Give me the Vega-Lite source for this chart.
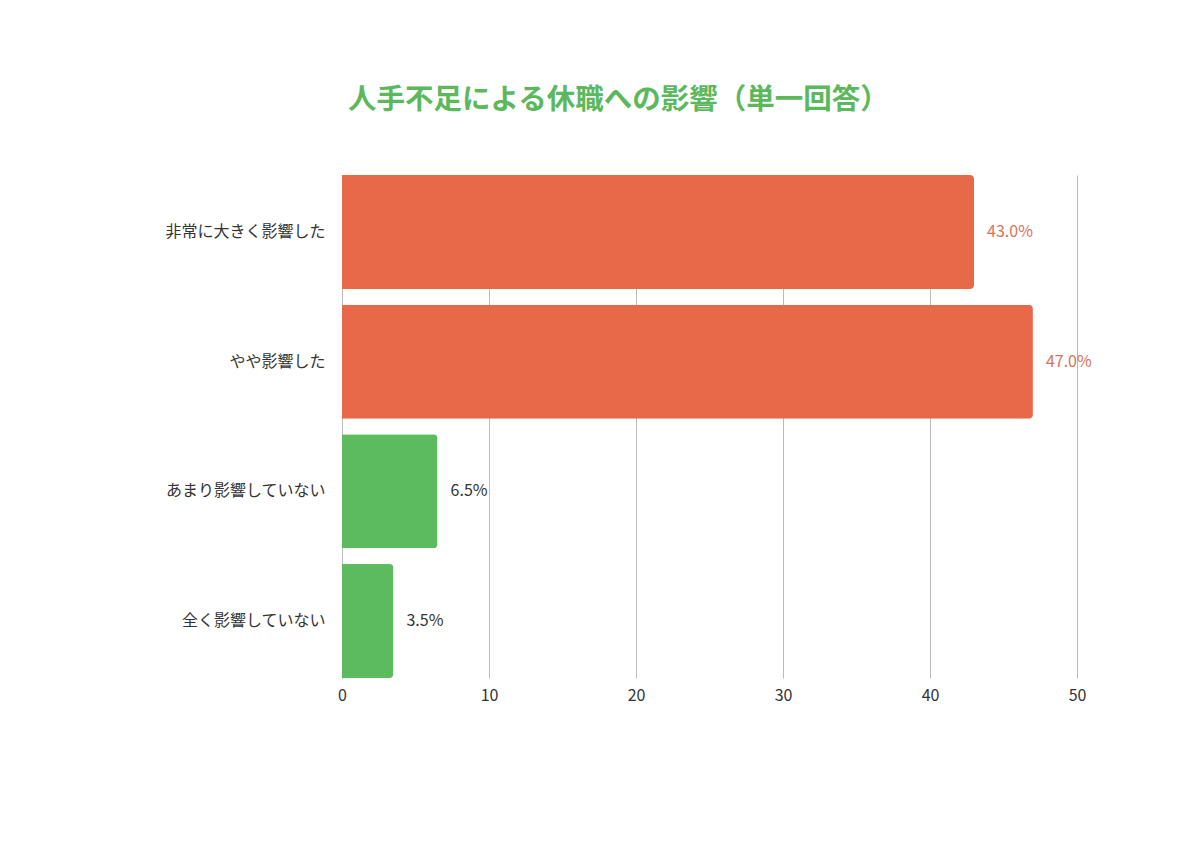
{
  "$schema": "https://vega.github.io/schema/vega-lite/v6.json",
  "width": 735,
  "height": 503,
  "autosize": {"type": "none"},
  "padding": {"left": 342, "top": 175, "right": 123, "bottom": 178},
  "background": "#ffffff",
  "title": {
    "text": "人手不足による休職への影響（単一回答）",
    "font": "Noto Sans CJK JP",
    "fontSize": 28.5,
    "fontWeight": "bold",
    "color": "#5CB85C",
    "anchor": "start",
    "frame": "group",
    "dx": 6,
    "offset": 61
  },
  "config": {
    "view": {"stroke": null},
    "font": "Noto Sans CJK JP"
  },
  "data": {
    "values": [
      {"category": "非常に大きく影響した", "value": 43.0, "label": "43.0%", "group": "affected"},
      {"category": "やや影響した", "value": 47.0, "label": "47.0%", "group": "affected"},
      {"category": "あまり影響していない", "value": 6.5, "label": "6.5%", "group": "not"},
      {"category": "全く影響していない", "value": 3.5, "label": "3.5%", "group": "not"}
    ]
  },
  "encoding": {
    "y": {
      "field": "category",
      "type": "nominal",
      "sort": null,
      "scale": {"paddingInner": 0.12, "paddingOuter": 0},
      "axis": {
        "title": null,
        "ticks": false,
        "domain": true,
        "domainColor": "#bbbbbb",
        "labelFontSize": 16,
        "labelColor": "#333333",
        "labelPadding": 17,
        "labelFont": "Noto Sans CJK JP"
      }
    }
  },
  "layer": [
    {
      "mark": {"type": "bar", "cornerRadiusEnd": 4},
      "encoding": {
        "x": {
          "field": "value",
          "type": "quantitative",
          "scale": {"domain": [0, 50]},
          "axis": {
            "title": null,
            "values": [0, 10, 20, 30, 40, 50],
            "grid": true,
            "gridColor": "#bbbbbb",
            "domain": false,
            "ticks": false,
            "labelFlush": false,
            "labelFontSize": 16,
            "labelColor": "#333333",
            "labelPadding": 9,
            "labelFont": "Noto Sans CJK JP"
          }
        },
        "color": {
          "field": "group",
          "type": "nominal",
          "scale": {"domain": ["affected", "not"], "range": ["#E8694A", "#5DBB5F"]},
          "legend": null
        }
      }
    },
    {
      "mark": {"type": "text", "align": "left", "baseline": "middle", "dx": 13, "fontSize": 16, "font": "Noto Sans CJK JP"},
      "encoding": {
        "x": {"field": "value", "type": "quantitative"},
        "text": {"field": "label"},
        "color": {
          "field": "group",
          "type": "nominal",
          "scale": {"domain": ["affected", "not"], "range": ["#D9735A", "#333333"]},
          "legend": null
        }
      }
    }
  ],
  "resolve": {"scale": {"color": "independent"}}
}
